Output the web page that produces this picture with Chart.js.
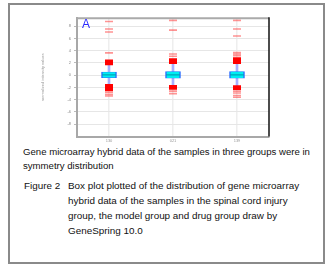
<!DOCTYPE html>
<html>
<head>
<meta charset="utf-8">
<script src="https://cdn.jsdelivr.net/npm/chart.js@4.4.0/dist/chart.umd.min.js"></script>
<style>
  body { margin: 0; width: 332px; height: 269px; background: #fff; position: relative; overflow: hidden;
         font-family: "Liberation Sans", Arial, sans-serif; color: #111; }
  #frame { position: absolute; left: 8px; top: 3px; width: 313px; height: 257px; border: 2px solid #8a8a8a; }
  #wrap { position: absolute; left: 40px; top: 10px; width: 240px; height: 135px; }
  #letterA { position: absolute; left: 82px; top: 17px; font-size: 12px; color: #2a2aff; }
  .t { position: absolute; white-space: nowrap; font-size: 9.6px; line-height: 12px; }
  .c { font-size: 9.9px; }
</style>
</head>
<body>
<div id="frame"></div>
<div id="wrap"><canvas id="box"></canvas></div>
<div id="letterA">A</div>
<div class="t" style="left:23px; top:146px;">Gene microarray hybrid data of the samples in three groups were in</div>
<div class="t" style="left:23px; top:160px;">symmetry distribution</div>
<div class="t c" style="left:24px; top:180px;">Figure 2</div>
<div class="t c" style="left:68px; top:180px;">Box plot plotted of the distribution of gene microarray</div>
<div class="t c" style="left:68px; top:195px;">hybrid data of the samples in the spinal cord injury</div>
<div class="t c" style="left:68px; top:210px;">group, the model group and drug group draw by</div>
<div class="t c" style="left:68px; top:225px;">GeneSpring 10.0</div>
<script>
// groups and box statistics
const groups = ['130', '021', '139'];
const q1 = [-0.4, -0.5, -0.5];
const median = [0.05, 0.05, 0.05];
const q3 = [0.5, 0.6, 0.6];
const whiskerLow = [-1.5, -1.85, -1.85];
const whiskerHigh = [2.0, 2.0, 2.0];
// dense outliers close to the whiskers
const nearOut = [
  [1.8, 1.95, 2.1, 2.25, 2.4, -1.6, -1.8, -2.0, -2.15, -2.3, -2.45],
  [2.0, 2.15, 2.3, 2.45, 2.6, -1.75, -1.9, -2.05, -2.2],
  [2.0, 2.15, 2.3, 2.45, 2.6, 2.75, -1.8, -1.95, -2.1, -2.25]
];
// sparse far outliers
const farOut = [
  [3.65, 7.05, 7.55, 8.75, -2.8, -3.15, -3.4],
  [3.1, 3.45, 7.35, 8.95, -2.6, -3.0],
  [3.2, 3.45, 3.7, 6.4, 7.55, 8.95, -2.6, -2.9, -3.3, -3.6]
];
const yTicks = [-8, -6, -4, -2, 0, 2, 4, 6, 8];

function pts(lists) {
  const out = [];
  lists.forEach((l, i) => l.forEach(v => out.push({ x: groups[i], y: v })));
  return out;
}

const framePlugin = {
  id: 'frame',
  afterDraw(chart) {
    const a = chart.chartArea, c = chart.ctx;
    c.save();
    c.strokeStyle = '#aaaaaa';
    c.lineWidth = 2;
    c.beginPath();
    c.moveTo(a.left, a.top); c.lineTo(a.right, a.top);
    c.stroke();
    c.strokeStyle = '#111';
    c.lineWidth = 1.5;
    c.beginPath();
    c.moveTo(a.right, a.top - 1); c.lineTo(a.right, a.bottom);
    c.stroke();
    c.restore();
  }
};

new Chart(document.getElementById('box'), {
  type: 'bar',
  data: {
    labels: groups,
    datasets: [
      {
        type: 'line', label: 'far', data: pts(farOut), showLine: false,
        pointStyle: 'line', pointRadius: 4, pointBorderWidth: 1.6,
        borderColor: 'rgba(255,60,60,0.55)', order: 0
      },
      {
        type: 'line', label: 'near', data: pts(nearOut), showLine: false,
        pointStyle: 'line', pointRadius: 4, pointBorderWidth: 2,
        borderColor: '#ff0000', order: 0
      },
      {
        type: 'line', label: 'median', data: median, showLine: false,
        pointStyle: 'line', pointRadius: 7, pointBorderWidth: 1.2,
        borderColor: '#00a6b8', order: 1
      },
      {
        label: 'box', data: q1.map((v, i) => [v, q3[i]]), grouped: false,
        barThickness: 15, backgroundColor: '#00eef2', borderColor: '#2a6cff',
        borderWidth: { left: 1.5, right: 1.5, top: 0.5, bottom: 0.5 }, borderSkipped: false, order: 2
      },
      {
        label: 'whisker', data: whiskerLow.map((v, i) => [v, whiskerHigh[i]]), grouped: false,
        barThickness: 2, backgroundColor: '#a9b0ff', borderWidth: 0, order: 3
      }
    ]
  },
  options: {
    responsive: true,
    maintainAspectRatio: false,
    animation: false,
    layout: { padding: { top: 8, right: 11, left: 0, bottom: 0 } },
    plugins: { legend: { display: false }, tooltip: { enabled: false } },
    scales: {
      x: {
        grid: { offset: false, color: '#eeeeee', lineWidth: 1.5, drawTicks: false },
        border: { color: '#a8a8a8', width: 2 },
        ticks: { color: '#999', font: { size: 4 }, padding: 2 },
        afterFit(s) { s.height = 8.5; }
      },
      y: {
        min: -10, max: 9.3,
        afterBuildTicks(s) { s.ticks = yTicks.map(v => ({ value: v })); },
        grid: { color: '#e6e6e6', lineWidth: 1, tickLength: 3, tickColor: '#bbb' },
        border: { color: '#a8a8a8', width: 2 },
        ticks: { color: '#888', font: { size: 4 }, padding: 3 },
        title: { display: true, text: 'normalized intensity values', color: '#999', font: { size: 4 }, padding: 0 },
        afterFit(s) { s.width = 37; }
      }
    }
  },
  plugins: [framePlugin]
});
</script>
</body>
</html>
